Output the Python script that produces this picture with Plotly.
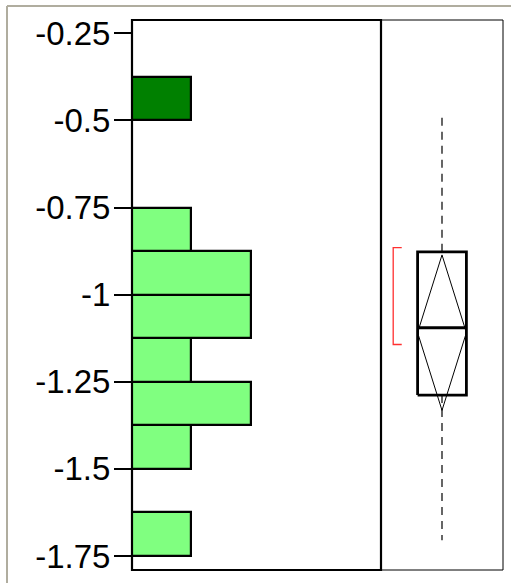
import plotly.graph_objects as go

# Histogram data (bin lower edge, counts)
bin_lower = [-1.75, -1.625, -1.5, -1.375, -1.25, -1.125, -1.0, -0.875, -0.75, -0.625, -0.5]
bin_counts = [1, 0, 1, 2, 1, 2, 2, 1, 0, 0, 1]
bin_selected = [False, False, False, False, False, False, False, False, False, False, True]
bin_width = 0.125

# Outlier box plot summary
q1 = -1.288
median = -1.095
q3 = -0.877
whisker_lo = -1.705
whisker_hi = -0.477
mean = -1.109
ci_lo = -1.332
ci_hi = -0.886
shortest_lo = -1.143
shortest_hi = -0.865

tick_vals = [-0.25, -0.5, -0.75, -1, -1.25, -1.5, -1.75]
tick_text = ["-0.25", "-0.5", "-0.75", "-1", "-1.25", "-1.5", "-1.75"]

light_green = "#80FF80"
dark_green = "#008000"

centers = [b + bin_width / 2 for b in bin_lower]
colors = [dark_green if s else light_green for s in bin_selected]

fig = go.Figure()
fig.add_trace(go.Bar(
    x=bin_counts, y=centers, orientation="h", width=bin_width, base=0,
    marker=dict(color=colors, line=dict(color="black", width=2.2)),
    xaxis="x", yaxis="y", showlegend=False, hoverinfo="skip",
))

# box plot pieces on x2 (0..1)
bl, br, bc = 0.3, 0.7, 0.5
fig.add_trace(go.Scatter(x=[bc, bc], y=[q3, whisker_hi], mode="lines",
                         line=dict(color="black", width=1.2, dash="8px,6px"),
                         xaxis="x2", yaxis="y", showlegend=False, hoverinfo="skip"))
fig.add_trace(go.Scatter(x=[bc, bc], y=[q1, whisker_lo], mode="lines",
                         line=dict(color="black", width=1.2, dash="8px,6px"),
                         xaxis="x2", yaxis="y", showlegend=False, hoverinfo="skip"))
# means diamond
fig.add_trace(go.Scatter(x=[bc, bl, bc, br, bc], y=[ci_hi, mean, ci_lo, mean, ci_hi], mode="lines",
                         line=dict(color="black", width=1),
                         xaxis="x2", yaxis="y", showlegend=False, hoverinfo="skip"))
# box
fig.add_trace(go.Scatter(x=[bl, br, br, bl, bl], y=[q1, q1, q3, q3, q1], mode="lines",
                         line=dict(color="black", width=2.8),
                         xaxis="x2", yaxis="y", showlegend=False, hoverinfo="skip"))
fig.add_trace(go.Scatter(x=[bl, br], y=[median, median], mode="lines",
                         line=dict(color="black", width=2.8),
                         xaxis="x2", yaxis="y", showlegend=False, hoverinfo="skip"))
# shortest half bracket
fig.add_trace(go.Scatter(x=[0.17, 0.10, 0.10, 0.17], y=[shortest_hi, shortest_hi, shortest_lo, shortest_lo],
                         mode="lines", line=dict(color="#FF3030", width=1.3),
                         xaxis="x2", yaxis="y", showlegend=False, hoverinfo="skip"))

split = 249 / 371
fig.update_layout(
    width=511, height=583,
    margin=dict(l=132, r=8, t=20, b=9),
    paper_bgcolor="white", plot_bgcolor="white",
    font=dict(family="Liberation Sans, Arial, sans-serif", size=33, color="black"),
    bargap=0,
    xaxis=dict(domain=[0, split], range=[0, 4.2], showticklabels=False, showgrid=False,
               zeroline=False, ticks=""),
    xaxis2=dict(domain=[split, 1], range=[0, 1], showticklabels=False, showgrid=False,
                zeroline=False, ticks=""),
    yaxis=dict(range=[-1.79, -0.212], tickvals=tick_vals, ticktext=tick_text,
               ticks="outside", ticklen=17, tickwidth=2, tickcolor="black",
               ticklabelstandoff=-3,
               showgrid=False, zeroline=False, showline=False),
    shapes=[
        dict(type="rect", xref="x domain", yref="y domain", x0=0, x1=1, y0=0, y1=1,
             line=dict(color="black", width=2.2)),
        dict(type="rect", xref="x2 domain", yref="y domain", x0=0, x1=1, y0=0, y1=1,
             line=dict(color="black", width=1)),
        dict(type="line", xref="paper", yref="paper", x0=-125 / 371, x1=1.1,
             y0=1 + 14 / 554, y1=1 + 14 / 554, line=dict(color="#B0AD9F", width=2)),
        dict(type="line", xref="paper", yref="paper", x0=-125 / 371, x1=-125 / 371,
             y0=-0.1, y1=1 + 14 / 554, line=dict(color="#B0AD9F", width=2)),
    ],
)
fig.write_html("out.html", config={"displayModeBar": False},
               post_script="document.body.style.margin='0';document.body.style.overflow='hidden';")
